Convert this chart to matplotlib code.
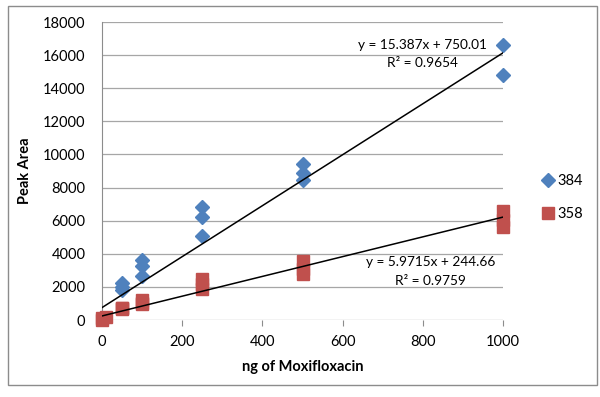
import matplotlib.pyplot as plt
from matplotlib.patches import Rectangle

plt.rcParams["font.family"] = ["Lato", "DejaVu Sans"]

# series 384 (blue diamonds)
x_384 = [50, 50, 50, 100, 100, 100, 250, 250, 250, 500, 500, 500, 1000, 1000]
y_384 = [2250, 2000, 1800, 3600, 3250, 2650, 6800, 6250, 5050, 9450, 8850, 8450, 16600, 14800]

# series 358 (red squares)
x_358 = [0, 0, 10, 50, 50, 50, 100, 100, 100, 250, 250, 250, 500, 500, 500, 1000, 1000, 1000]
y_358 = [0, 100, 200, 750, 700, 650, 1200, 1050, 950, 2500, 2150, 1850, 3550, 3100, 2750, 6600, 6050, 5600]

# linear trendlines reported on the chart
fit_384 = (15.387, 750.01, 0.9654)
fit_358 = (5.9715, 244.66, 0.9759)
fit_x = [0, 1000]

x_ticks = [0, 200, 400, 600, 800, 1000]
y_ticks = list(range(0, 18001, 2000))

BLUE = "#4F81BD"
RED = "#C0504D"
FS = 10.5

fig = plt.figure(figsize=(6, 3.97), dpi=100)
fig.patches.append(Rectangle((8 / 600, 1 - 385 / 397), 589 / 600, 379 / 397,
                             transform=fig.transFigure, fill=False,
                             edgecolor="#8c8c8c", linewidth=1))
ax = fig.add_axes([102 / 600, 1 - 320 / 397, 401 / 600, 298 / 397])

for t in y_ticks:
    ax.axhline(t, color="#a6a6a6", linewidth=0.9, zorder=0)

ax.plot(x_384, y_384, "D", color=BLUE, markersize=7, linestyle="none",
        clip_on=False, zorder=3, label="384")
ax.plot(x_358, y_358, "s", color=RED, markersize=8, linestyle="none",
        clip_on=False, zorder=3, label="358")

for m, b, r2 in (fit_384, fit_358):
    ax.plot(fit_x, [m * x + b for x in fit_x], color="black", linewidth=1.1, zorder=4)

ax.text(798, 16600, f"y = {fit_384[0]}x + {fit_384[1]:.2f}", ha="center", va="center", fontsize=9.8)
ax.text(800, 15500, f"R² = {fit_384[2]}", ha="center", va="center", fontsize=9.8)
ax.text(820, 3500, f"y = {fit_358[0]}x + {fit_358[1]}", ha="center", va="center", fontsize=9.8)
ax.text(820, 2350, f"R² = {fit_358[2]}", ha="center", va="center", fontsize=9.8)

ax.set_xlim(0, 1000)
ax.set_ylim(0, 18000)
ax.set_xticks(x_ticks)
ax.set_yticks(y_ticks)
ax.tick_params(axis="y", length=0, labelsize=FS, pad=12)
ax.tick_params(axis="x", length=4, direction="out", color="#8c8c8c", labelsize=FS, pad=7)
for side in ("top", "right"):
    ax.spines[side].set_visible(False)
ax.spines["left"].set_color("#8c8c8c")
ax.spines["bottom"].set_visible(False)

ax.set_xlabel("ng of Moxifloxacin", fontsize=10.5, fontweight="bold", labelpad=8)
ax.set_ylabel("Peak Area", fontsize=10.5, fontweight="bold", labelpad=8)

ax.legend(loc="center left", bbox_to_anchor=(1.08, 0.41), frameon=False,
          fontsize=FS, handletextpad=0.1, labelspacing=1.3, handlelength=1,
          borderaxespad=0)

fig.savefig("out.png", dpi=100)
